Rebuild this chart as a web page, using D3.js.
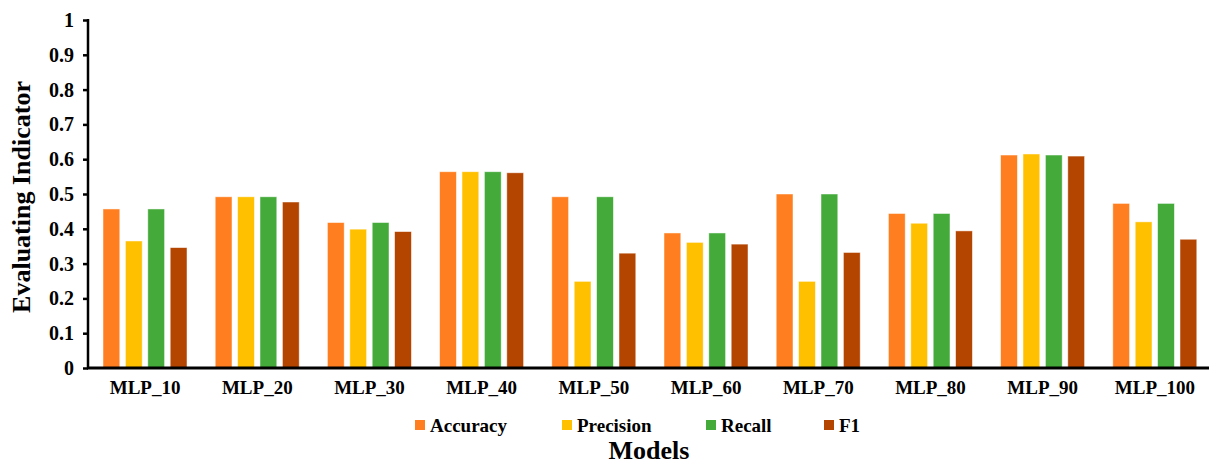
<!DOCTYPE html>
<html>
<head>
<meta charset="utf-8">
<script src="https://cdn.jsdelivr.net/npm/d3@7"></script>
<style>
  html, body { margin: 0; padding: 0; background: #fff; }
  svg text { font-family: 'Liberation Serif', 'Times New Roman', Times, serif !important; font-weight: bold; fill: #000; }
</style>
</head>
<body>
<svg id="chart" width="1209" height="464"></svg>
<script>
const categories = ["MLP_10","MLP_20","MLP_30","MLP_40","MLP_50","MLP_60","MLP_70","MLP_80","MLP_90","MLP_100"];
const seriesNames = ["Accuracy","Precision","Recall","F1"];
const accuracy  = [0.457, 0.492, 0.418, 0.564, 0.492, 0.388, 0.500, 0.444, 0.612, 0.473];
const precision = [0.365, 0.492, 0.399, 0.564, 0.249, 0.361, 0.249, 0.416, 0.615, 0.420];
const recall    = [0.457, 0.492, 0.418, 0.564, 0.492, 0.388, 0.500, 0.444, 0.612, 0.473];
const f1        = [0.346, 0.477, 0.392, 0.561, 0.330, 0.356, 0.332, 0.394, 0.609, 0.370];
const yTicks = [0, 0.1, 0.2, 0.3, 0.4, 0.5, 0.6, 0.7, 0.8, 0.9, 1];
const colors = ["#FF7F20", "#FFC000", "#44AA3A", "#B44500"];

const seriesValues = [accuracy, precision, recall, f1];

const svg = d3.select("#chart");
const plot = { left: 89, right: 1211, top: 20, bottom: 368 };

const x0 = d3.scaleBand().domain(categories).range([plot.left, plot.right]).paddingInner(0).paddingOuter(0);
const x1 = d3.scaleBand().domain(seriesNames).range([14, 98]).paddingInner(0.25).paddingOuter(0);
const y = d3.scaleLinear().domain([0, 1]).range([plot.bottom, plot.top]);
const color = d3.scaleOrdinal().domain(seriesNames).range(colors);

// bars
const groups = svg.append("g").selectAll("g")
  .data(categories)
  .join("g")
  .attr("transform", d => `translate(${x0(d)},0)`);

groups.selectAll("rect")
  .data((c, i) => seriesNames.map((s, j) => ({ s, v: seriesValues[j][i] })))
  .join("rect")
  .attr("x", d => x1(d.s))
  .attr("width", x1.bandwidth())
  .attr("y", d => y(d.v))
  .attr("height", d => y(0) - y(d.v))
  .attr("fill", d => color(d.s))
  .attr("stroke", "rgba(255,255,255,0.6)")
  .attr("stroke-width", 0.8);

// y axis
const yAxis = d3.axisLeft(y).tickValues(yTicks).tickSize(5).tickPadding(8)
  .tickFormat(d => d === 0 ? "0" : d === 1 ? "1" : d3.format(".1f")(d));
const gy = svg.append("g").attr("transform", `translate(${plot.left - 1},0)`).call(yAxis);
gy.select(".domain").attr("stroke", "#000").attr("stroke-width", 2.5).attr("d", `M0,${plot.top - 1}V${plot.bottom + 1}`);
gy.selectAll(".tick line").attr("stroke", "#000").attr("stroke-width", 2.5);
gy.selectAll(".tick text").attr("x", -14).attr("font-size", 20);

// x axis
const xAxis = d3.axisBottom(x0).tickSize(0).tickPadding(13);
const gx = svg.append("g").attr("transform", `translate(0,${plot.bottom})`).call(xAxis);
gx.select(".domain").attr("stroke", "#000").attr("stroke-width", 3).attr("d", `M${plot.left - 2},0H1209`);
gx.selectAll(".tick text").attr("x", 0).attr("font-size", 19);

// y title
svg.append("text")
  .attr("transform", "translate(30,197) rotate(-90)")
  .attr("text-anchor", "middle")
  .attr("font-size", 26)
  .text("Evaluating Indicator");

// x title
svg.append("text")
  .attr("x", 649).attr("y", 459)
  .attr("text-anchor", "middle")
  .attr("font-size", 26)
  .text("Models");

// legend
const legendX = [415, 562, 706, 824];
const lg = svg.append("g").selectAll("g").data(seriesNames).join("g")
  .attr("transform", (d, i) => `translate(${legendX[i]},420)`);
lg.append("rect").attr("width", 10).attr("height", 10).attr("fill", d => color(d));
lg.append("text").attr("x", 15).attr("y", 12)
  .attr("font-size", 19)
  .text(d => d);
</script>
</body>
</html>
